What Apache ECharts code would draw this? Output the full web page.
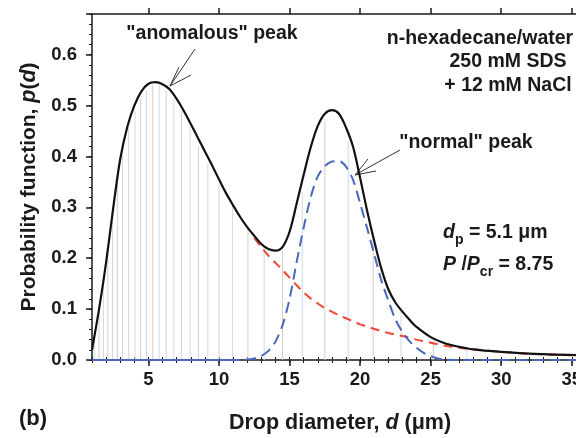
<!DOCTYPE html>
<html>
<head>
<meta charset="utf-8">
<script src="https://cdn.jsdelivr.net/npm/echarts@6/dist/echarts.min.js"></script>
<style>
  html, body { margin: 0; padding: 0; background: #fff; }
  #main { width: 576px; height: 438px; }
</style>
</head>
<body>
<div id="main"></div>
<script>
// 总分布（黑色实线）
const totalX = [1.0, 1.5, 2.0, 2.5, 3.0, 3.5, 4.0, 4.5, 5.0, 5.5, 6.0, 6.5, 7.0, 7.5, 8.0, 8.5, 9.0, 9.5, 10.0, 10.5, 11.0, 11.5, 12.0, 12.5, 13.0, 13.5, 14.0, 14.5, 15.0, 15.5, 16.0, 16.5, 17.0, 17.5, 18.0, 18.5, 19.0, 19.5, 20.0, 20.5, 21.0, 21.5, 22.0, 22.5, 23.0, 23.5, 24.0, 25.0, 26.0, 27.0, 28.0, 30.0, 32.0, 35.3];
const totalY = [0.020, 0.100, 0.192, 0.298, 0.395, 0.458, 0.500, 0.528, 0.543, 0.546, 0.542, 0.532, 0.513, 0.490, 0.464, 0.437, 0.410, 0.383, 0.355, 0.328, 0.304, 0.281, 0.261, 0.244, 0.228, 0.218, 0.215, 0.222, 0.252, 0.307, 0.364, 0.418, 0.460, 0.484, 0.491, 0.484, 0.457, 0.419, 0.358, 0.293, 0.234, 0.180, 0.139, 0.113, 0.095, 0.079, 0.065, 0.045, 0.033, 0.026, 0.021, 0.016, 0.0125, 0.0095];

// "anomalous" 峰（红色虚线）
const anomX = [12.5, 13.0, 13.5, 14.0, 14.5, 15.0, 15.5, 16.0, 16.5, 17.0, 17.5, 18.0, 18.5, 19.0, 19.5, 20.0, 20.5, 21.0, 21.5, 22.0, 22.5, 23.0, 24.0, 25.0, 26.0, 27.0, 28.0, 30.0, 32.0, 35.3];
const anomY = [0.240, 0.222, 0.205, 0.191, 0.177, 0.162, 0.147, 0.133, 0.121, 0.111, 0.102, 0.095, 0.088, 0.082, 0.076, 0.070, 0.066, 0.061, 0.057, 0.053, 0.050, 0.047, 0.040, 0.034, 0.028, 0.024, 0.021, 0.016, 0.0125, 0.009];

// "normal" 峰（蓝色虚线）
const normX = [1.0, 11.5, 12.0, 12.5, 13.0, 13.5, 14.0, 14.5, 15.0, 15.5, 16.0, 16.5, 17.0, 17.5, 18.0, 18.5, 19.0, 19.5, 20.0, 20.5, 21.0, 21.5, 22.0, 22.5, 23.0, 23.5, 24.0, 24.5, 25.0, 25.5, 26.0, 27.0, 35.3];
const normY = [0, 0, 0.001, 0.003, 0.008, 0.018, 0.036, 0.068, 0.120, 0.192, 0.260, 0.320, 0.361, 0.381, 0.390, 0.391, 0.380, 0.354, 0.308, 0.259, 0.208, 0.157, 0.117, 0.080, 0.055, 0.037, 0.024, 0.014, 0.008, 0.003, 0.001, 0, 0];

// 竖线（直方图）
const binX = [1.16, 1.5, 1.82, 2.12, 2.45, 2.8, 3.16, 3.6, 4.05, 4.45, 4.85, 5.3, 5.76, 6.26, 6.8, 7.35, 7.95, 8.55, 9.21, 10.0, 10.95, 12.05, 13.2, 14.5, 15.9, 17.5, 19.16, 20.93, 22.9, 25.19, 27.56];
const binY = [0.045, 0.095, 0.16, 0.215, 0.285, 0.35, 0.405, 0.455, 0.49, 0.515, 0.53, 0.54, 0.54, 0.53, 0.515, 0.49, 0.46, 0.42, 0.385, 0.345, 0.3, 0.258, 0.222, 0.215, 0.33, 0.47, 0.43, 0.24, 0.095, 0.04, 0.022];

// 刻度
const xMajor = [5, 10, 15, 20, 25, 30, 35];

function zip(xs, ys) {
  return xs.map((x, i) => [x, ys[i]]);
}

const font = 'Liberation Sans, Arial, Helvetica, sans-serif';
const ink = '#1a1a1a';
const barColor = ['#cbdbe8', '#dccdc6'];

const myChart = echarts.init(document.getElementById('main'));

const xBase = {
  type: 'value',
  min: 1,
  max: 35.3,
  splitLine: { show: false },
  axisLine: { show: false },
  axisLabel: { show: false }
};

const titleRich = { i: { fontStyle: 'italic', fontWeight: 'bold', fontSize: 21.5, fontFamily: font, color: ink } };
const paramRich = {
  i: { fontStyle: 'italic', fontWeight: 'bold', fontSize: 19.5, fontFamily: font, lineHeight: 28 },
  s: { fontWeight: 'bold', fontSize: 14, fontFamily: font, verticalAlign: 'bottom', lineHeight: 14 }
};

let option = {
  animation: false,
  grid: { left: 92, top: 14, right: 0, bottom: 78, outerBoundsMode: 'none' },
  xAxis: [
    Object.assign({}, xBase, {
      position: 'bottom',
      axisLine: { show: true, onZero: false, lineStyle: { color: ink, width: 1.5 } },
      axisTick: { show: true, customValues: xMajor, length: 6, lineStyle: { color: ink, width: 1.5 } },
      axisLabel: {
        show: true, customValues: xMajor, margin: 10,
        color: ink, fontSize: 18.5, fontWeight: 'bold', fontFamily: font
      },
      name: 'Drop diameter, {i|d} (μm)',
      nameLocation: 'middle',
      nameGap: 52,
      nameTextStyle: {
        color: ink, fontSize: 21.5, fontWeight: 'bold', fontFamily: font,
        padding: [0, 0, 0, 12], rich: titleRich
      }
    }),
    Object.assign({}, xBase, {
      position: 'bottom',
      interval: 1,
      axisTick: { show: true, length: 3, lineStyle: { color: ink, width: 1 } }
    }),
    Object.assign({}, xBase, {
      position: 'top',
      axisLine: { show: true, onZero: false, lineStyle: { color: ink, width: 1.5 } },
      axisTick: { show: true, customValues: xMajor, length: 6, lineStyle: { color: ink, width: 1.5 } }
    }),
    Object.assign({}, xBase, {
      position: 'top',
      interval: 1,
      axisTick: { show: true, length: 3, lineStyle: { color: ink, width: 1 } }
    })
  ],
  yAxis: [
    {
      type: 'value',
      min: 0,
      max: 0.68,
      interval: 0.1,
      position: 'left',
      splitLine: { show: false },
      axisLine: { show: true, onZero: false, lineStyle: { color: ink, width: 1.5 } },
      axisTick: { show: true, length: 6, lineStyle: { color: ink, width: 1.5 } },
      axisLabel: {
        margin: 15, color: ink, fontSize: 18.5, fontWeight: 'bold', fontFamily: font,
        formatter: function (v) {
          return Math.abs(v * 10 - Math.round(v * 10)) < 1e-6 ? v.toFixed(1) : '';
        }
      },
      name: 'Probability function, {i|p}({i|d})',
      nameLocation: 'middle',
      nameGap: 52,
      nameTextStyle: { color: ink, fontSize: 21, fontWeight: 'bold', fontFamily: font, rich: titleRich }
    },
    {
      type: 'value',
      min: 0,
      max: 0.68,
      interval: 0.02,
      position: 'left',
      splitLine: { show: false },
      axisLine: { show: false },
      axisLabel: { show: false },
      axisTick: { show: true, length: 3, lineStyle: { color: ink, width: 1 } }
    }
  ],
  series: [
    {
      name: 'bins',
      type: 'bar',
      barWidth: 1,
      silent: true,
      data: zip(binX, binY),
      itemStyle: {
        color: function (p) {
          return barColor[p.dataIndex % 2];
        }
      }
    },
    {
      name: 'anomalous',
      type: 'line',
      smooth: 0.3,
      showSymbol: false,
      data: zip(anomX, anomY),
      lineStyle: { color: '#f0452f', width: 2, type: [9, 6] }
    },
    {
      name: 'normal',
      type: 'line',
      smooth: 0.3,
      showSymbol: false,
      data: zip(normX, normY),
      lineStyle: { color: '#4a68bd', width: 2, type: [11, 6] }
    },
    {
      // 零值部分在原图中显示为实线
      name: 'normal-base',
      type: 'line',
      showSymbol: false,
      data: zip(normX, normY).filter(p => p[0] <= 11.5),
      lineStyle: { color: '#4a68bd', width: 2 }
    },
    {
      name: 'total',
      type: 'line',
      smooth: 0.3,
      showSymbol: false,
      data: zip(totalX, totalY),
      lineStyle: { color: '#111', width: 2.2 }
    }
  ],
  graphic: [
    // "anomalous" 峰标注
    { type: 'text', x: 212, y: 34, style: { text: '"anomalous" peak', fill: ink, font: 'bold 19.5px ' + font, align: 'center', verticalAlign: 'middle' } },
    { type: 'line', shape: { x1: 195, y1: 49, x2: 170, y2: 86 }, style: { stroke: '#333', lineWidth: 1 } },
    { type: 'line', shape: { x1: 170, y1: 86, x2: 179, y2: 67 }, style: { stroke: '#333', lineWidth: 1 } },
    { type: 'line', shape: { x1: 170, y1: 86, x2: 191, y2: 75 }, style: { stroke: '#333', lineWidth: 1 } },
    // "normal" 峰标注
    { type: 'text', x: 466, y: 143, style: { text: '"normal" peak', fill: ink, font: 'bold 19.5px ' + font, align: 'center', verticalAlign: 'middle' } },
    { type: 'line', shape: { x1: 400, y1: 150, x2: 355, y2: 175 }, style: { stroke: '#333', lineWidth: 1 } },
    { type: 'line', shape: { x1: 355, y1: 175, x2: 368, y2: 159 }, style: { stroke: '#333', lineWidth: 1 } },
    { type: 'line', shape: { x1: 355, y1: 175, x2: 376, y2: 171 }, style: { stroke: '#333', lineWidth: 1 } },
    // 体系说明
    { type: 'text', x: 480, y: 39, style: { text: 'n-hexadecane/water', fill: ink, font: 'bold 19.5px ' + font, align: 'center', verticalAlign: 'middle' } },
    { type: 'text', x: 508, y: 62, style: { text: '250 mM SDS', fill: ink, font: 'bold 19.5px ' + font, align: 'center', verticalAlign: 'middle' } },
    { type: 'text', x: 508, y: 86, style: { text: '+ 12 mM NaCl', fill: ink, font: 'bold 19.5px ' + font, align: 'center', verticalAlign: 'middle' } },
    // 参数
    {
      type: 'text', left: 443, top: 219,
      style: {
        text: '{i|d}{s|p} = 5.1 μm',
        fill: ink, fontSize: 19.5, fontWeight: 'bold', fontFamily: font, lineHeight: 28,
        rich: paramRich
      }
    },
    {
      type: 'text', left: 443, top: 251,
      style: {
        text: '{i|P} /{i|P}{s|cr} = 8.75',
        fill: ink, fontSize: 19.5, fontWeight: 'bold', fontFamily: font, lineHeight: 28,
        rich: paramRich
      }
    },
    { type: 'text', left: 19, top: 408, style: { text: '(b)', fill: ink, font: 'bold 22px ' + font } }
  ]
};

myChart.setOption(option);
window.addEventListener('resize', function () {
  myChart.resize();
});
</script>
</body>
</html>
